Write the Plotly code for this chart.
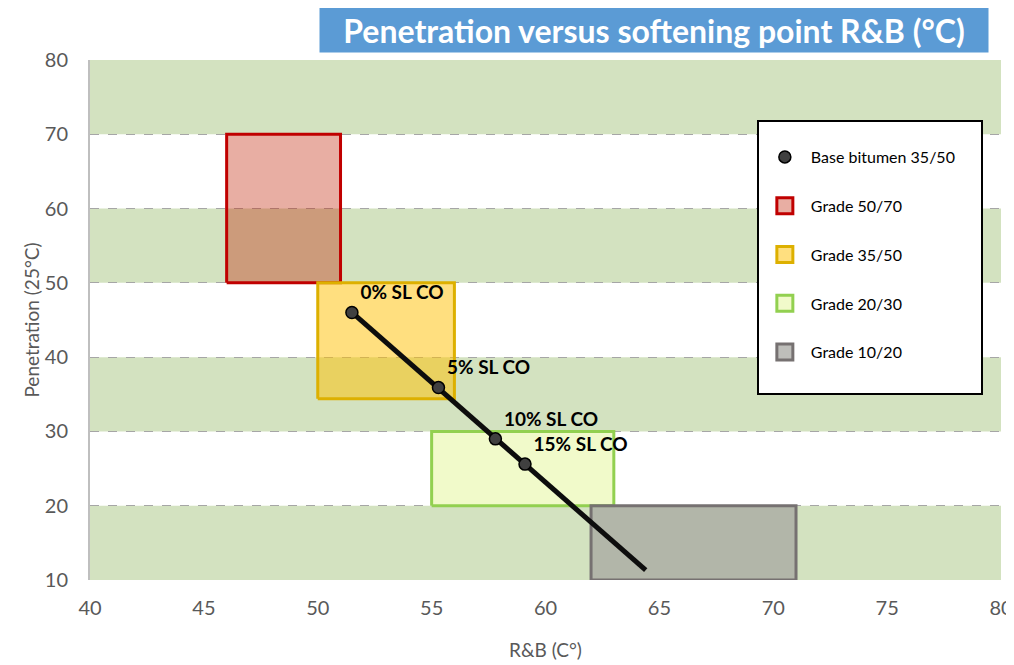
import numpy as np
import plotly.graph_objects as go

# ---- data ----
rb_values = [51.5, 55.3, 57.8, 59.1]
pen_values = [46.0, 35.9, 29.0, 25.6]
point_labels = ["0% SL CO", "5% SL CO", "10% SL CO", "15% SL CO"]
trend_forward = 5.3  # trendline forecast forward (R&B units)

grade_names = ["Grade 50/70", "Grade 35/50", "Grade 20/30", "Grade 10/20"]
grade_rb_min = [46, 50, 55, 62]
grade_rb_max = [51, 56, 63, 71]
grade_pen_min = [50, 34.4, 20, 10]
grade_pen_max = [70, 50, 30, 20]
grade_fill = ["rgba(192,30,0,0.36)", "rgba(255,192,0,0.5)", "rgba(228,245,150,0.5)", "rgba(165,165,160,0.72)"]
grade_line = ["#C00000", "#DDB000", "#92D050", "#767171"]

band_ranges = [(10, 20), (30, 40), (50, 60), (70, 80)]
x_ticks = [40, 45, 50, 55, 60, 65, 70, 75, 80]
y_ticks = [10, 20, 30, 40, 50, 60, 70, 80]

FONT = "Lato"
NBSP = "\u00a0"
fig = go.Figure()

# grade rectangles
for i, name in enumerate(grade_names):
    x0, x1 = grade_rb_min[i], grade_rb_max[i]
    y0, y1 = grade_pen_min[i], grade_pen_max[i]
    fig.add_trace(go.Scatter(
        x=[x0, x1, x1, x0, x0], y=[y0, y0, y1, y1, y0],
        mode="lines", fill="toself", fillcolor=grade_fill[i],
        line=dict(color=grade_line[i], width=3),
        showlegend=False, hoverinfo="skip"))

# linear trendline
coef = np.polyfit(rb_values, pen_values, 1)
tx = np.array([rb_values[0], rb_values[-1] + trend_forward])
fig.add_trace(go.Scatter(x=tx, y=np.polyval(coef, tx), mode="lines",
                         line=dict(color="#0d0d0d", width=5), showlegend=False))

# points
fig.add_trace(go.Scatter(
    x=rb_values, y=pen_values, mode="markers+text", text=point_labels,
    textposition="top right",
    textfont=dict(family=FONT, size=19, color="black", weight="bold"),
    marker=dict(size=12, color="#404040", line=dict(color="black", width=1.5)),
    name="Base bitumen 35/50" + NBSP * 5, legendgroup="base", legendrank=1))

# legend entries for grade boxes
for i, name in enumerate(grade_names):
    fig.add_trace(go.Scatter(
        x=[None], y=[None], mode="markers", name=name, legendgroup=name,
        legendrank=2 + i,
        marker=dict(symbol="square", size=26, color=grade_fill[i],
                    line=dict(color=grade_line[i], width=3))))
# blank spacer at the bottom of the legend box
fig.add_trace(go.Scatter(x=[None], y=[None], mode="markers", name=NBSP,
                         legendgroup=grade_names[-1], legendrank=10,
                         marker=dict(size=1, color="rgba(0,0,0,0)",
                                     line=dict(width=0, color="rgba(0,0,0,0)")),
                         hoverinfo="skip"))

shapes = []
for lo, hi in band_ranges:
    shapes.append(dict(type="rect", xref="paper", yref="y", x0=0, x1=1, y0=lo, y1=hi,
                       fillcolor="#D3E2C0", line=dict(width=0), layer="below"))

fig.update_layout(
    width=1006, height=657,
    paper_bgcolor="white", plot_bgcolor="white",
    margin=dict(l=82, r=13, t=52, b=85),
    shapes=shapes,
    font=dict(family=FONT, color="#595959"),
    legend=dict(x=0.732, y=0.885, xanchor="left", yanchor="top",
                bgcolor="white", bordercolor="black", borderwidth=2,
                font=dict(family=FONT, size=16, color="black"),
                title=dict(text=" ", font=dict(size=14)),
                tracegroupgap=25, itemwidth=42, itemsizing="trace"),
    annotations=[dict(text="<b>Penetration versus softening point R&B (°C)</b>",
                      xref="paper", yref="paper", x=0.619, y=1.0577,
                      xanchor="center", yanchor="middle", showarrow=False,
                      width=664, height=40, align="center", valign="middle",
                      bgcolor="#5B9BD5", borderpad=2,
                      font=dict(family=FONT, size=32, color="white"))],
)
fig.update_xaxes(range=[40, 80], tickvals=x_ticks, showgrid=False, zeroline=False,
                 showline=False, ticks="", automargin=False, ticklabelstandoff=14,
                 tickfont=dict(size=20, color="#595959"),
                 title=dict(text="R&B (C°)", font=dict(size=19, color="#595959"), standoff=25))
fig.update_yaxes(range=[10, 80], tickvals=y_ticks, showgrid=True, gridcolor="#A6A6A6",
                 griddash="dash", gridwidth=1, zeroline=False, showline=True,
                 linecolor="#BFBFBF", linewidth=2, ticks="", automargin=False,
                 ticklabelstandoff=16,
                 tickfont=dict(size=20, color="#595959"),
                 title=dict(text="Penetration (25°C)", font=dict(size=19, color="#595959"), standoff=0))

fig.write_html("out.html")
